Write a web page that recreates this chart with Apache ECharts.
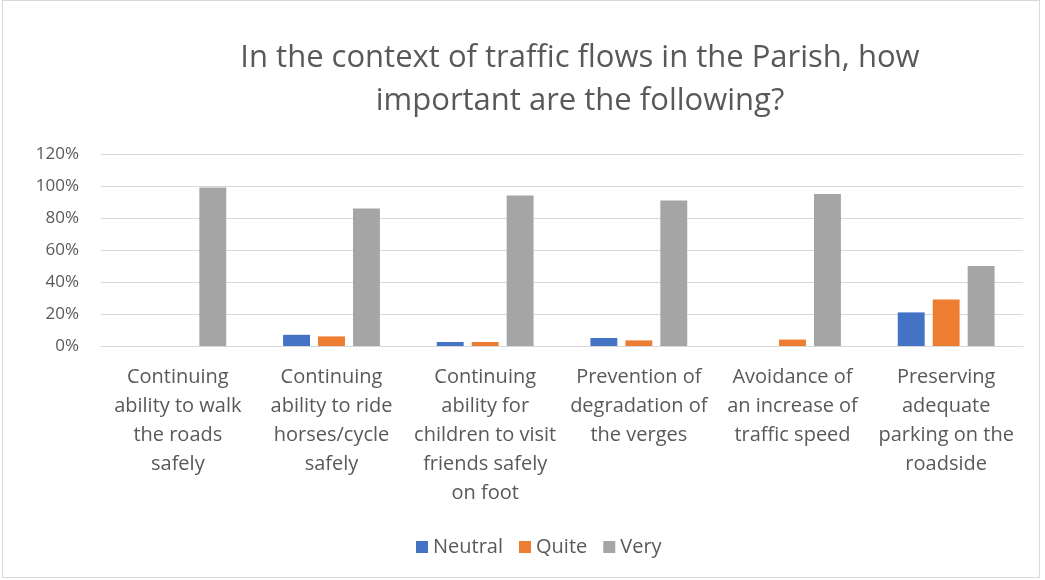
<!DOCTYPE html>
<html>
<head>
<meta charset="utf-8">
<script src="https://cdn.jsdelivr.net/npm/echarts@6/dist/echarts.min.js"></script>
<style>
  html, body { margin: 0; padding: 0; background: #fff; }
  #chart { position: absolute; left: 2px; top: 0; width: 1036px; height: 576px; border: 1px solid #d9d9d9; }
</style>
</head>
<body>
<div id="chart"></div>
<script>
// categories, wrapped like the reference
const categories = [
  "Continuing\nability to walk\nthe roads\nsafely",
  "Continuing\nability to ride\nhorses/cycle\nsafely",
  "Continuing\nability for\nchildren to visit\nfriends safely\non foot",
  "Prevention of\ndegradation of\nthe verges",
  "Avoidance of\nan increase of\ntraffic speed",
  "Preserving\nadequate\nparking on the\nroadside",
];

const neutral = [0, 7, 2.5, 5, 0, 21];
const quite = [0, 6, 2.5, 3.5, 4, 29];
const very = [99, 86, 94, 91, 95, 50];

const textColor = "#595959";
const font = "'Open Sans', 'Noto Sans', sans-serif";

const chart = echarts.init(document.getElementById("chart"));

const options = {
  animation: false,
  textStyle: { fontFamily: font },
  title: {
    text: "In the context of traffic flows in the Parish, how\nimportant are the following?",
    left: 572, // title centre sits right of the chart centre
    textAlign: "center",
    top: 31,
    textStyle: {
      color: textColor,
      fontSize: 31,
      fontWeight: "normal",
      lineHeight: 43,
      fontFamily: font,
    },
  },
  legend: {
    data: ["Neutral", "Quite", "Very"],
    bottom: 15,
    left: 408,
    itemWidth: 12,
    itemHeight: 12,
    itemGap: 16,
    icon: "rect",
    textStyle: { color: textColor, fontSize: 20, fontFamily: font },
  },
  grid: {
    left: 98,
    right: 16,
    top: 153,
    bottom: 231,
  },
  xAxis: {
    type: "category",
    data: categories,
    axisTick: { show: false },
    axisLine: { lineStyle: { color: "#d9d9d9", width: 1 } },
    axisLabel: {
      color: textColor,
      fontSize: 20,
      lineHeight: 29,
      interval: 0,
      margin: 17,
      fontFamily: font,
    },
  },
  yAxis: {
    type: "value",
    min: 0,
    max: 120,
    interval: 20,
    axisLine: { show: false },
    axisTick: { show: false },
    splitLine: { lineStyle: { color: "#d9d9d9", width: 1 } },
    axisLabel: {
      formatter: "{value}%",
      color: textColor,
      fontSize: 17,
      margin: 22,
      fontFamily: font,
    },
  },
  series: [
    {
      name: "Neutral",
      type: "bar",
      data: neutral,
      barGap: "30%",
      barCategoryGap: "37%",
      itemStyle: { color: "#4472c4" },
    },
    {
      name: "Quite",
      type: "bar",
      data: quite,
      itemStyle: { color: "#ed7d31" },
    },
    {
      name: "Very",
      type: "bar",
      data: very,
      itemStyle: { color: "#a5a5a5" },
    },
  ],
};

chart.setOption(options);
</script>
</body>
</html>
